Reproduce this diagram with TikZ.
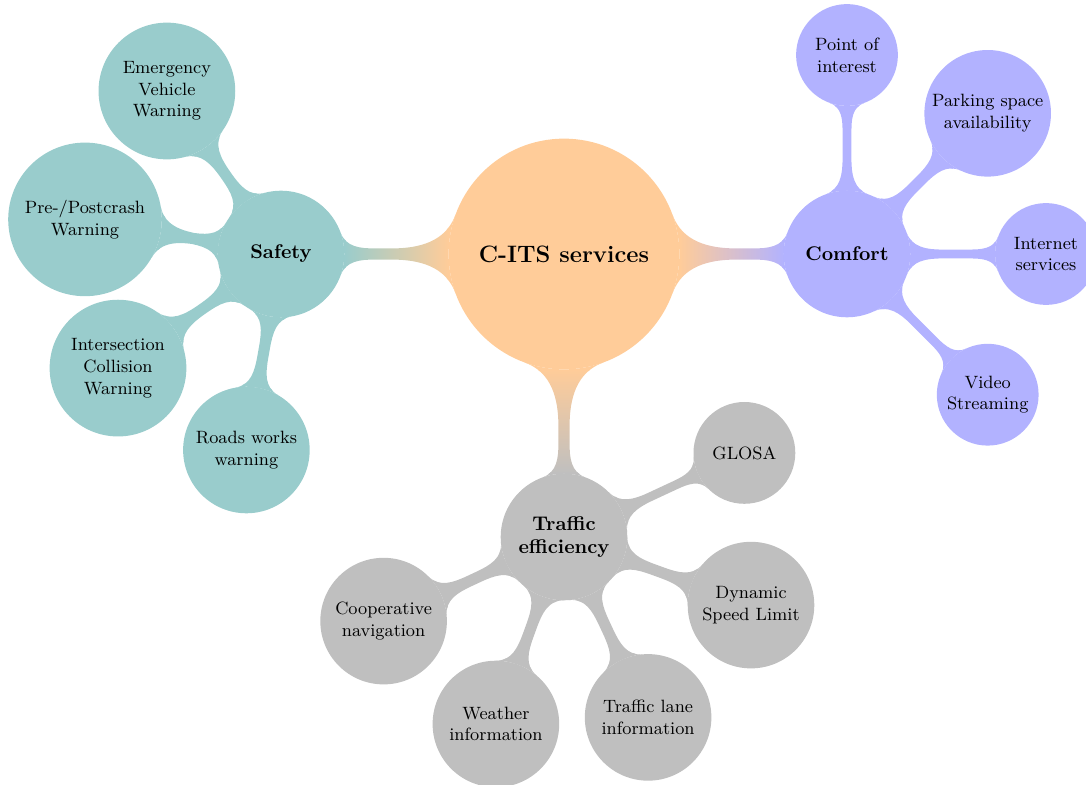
\documentclass[tikz,border=0pt]{standalone}
\usetikzlibrary{mindmap,backgrounds}
\begin{document}
\begin{tikzpicture}[x=0.017762cm, y=-0.017762cm,
  cbase/.style={circle, inner sep=0pt, align=center, text=black, line width=0.8pt},
  rootc/.style={cbase, fill=orange!40, draw=orange!40, minimum size=4.07cm, font=\large\bfseries},
  lone/.style={cbase, minimum size=2.22cm, font=\bfseries},
  leafs/.style={cbase, minimum size=1.78cm, font=\small},
  leafm/.style={cbase, minimum size=2.22cm, font=\small},
  leafl/.style={cbase, minimum size=2.40cm, font=\small},
  safc/.style={fill=teal!40, draw=teal!40},
  comc/.style={fill=blue!30, draw=blue!30},
  trac/.style={fill=gray!50, draw=gray!50},
  link/.style args={#1/#2}{circle connection bar switch color=from (#1) to (#2)}
]
\useasboundingbox (0,0) rectangle (1086,785);

\node[rootc] (root) at (564,254) {C-ITS services};

\node[lone, safc] (safety) at (281,254) {Safety};
\node[lone, comc] (comfort) at (847,254) {Comfort};
\node[lone, trac] (traffic) at (564,537) {Traffic\\efficiency};

\node[leafl, safc] (emerg) at (166.9,91.0) {Emergency\\Vehicle\\Warning};
\node[cbase, safc, minimum size=2.70cm, font=\small] (crash) at (85.0,219.4) {Pre-/Postcrash\\Warning};
\node[leafl, safc] (inter) at (118.0,368.1) {Intersection\\Collision\\Warning};
\node[leafm, safc] (roads) at (246.4,450.0) {Roads works\\warning};

\node[leafs, comc] (poi) at (847,55) {Point of\\interest};
\node[leafm, comc] (parking) at (987.7,113.3) {Parking space\\availability};
\node[leafs, comc] (internet) at (1046,254) {Internet\\services};
\node[leafs, comc] (video) at (987.7,394.7) {Video\\Streaming};

\node[leafs, trac] (glosa) at (744.4,452.9) {GLOSA};
\node[leafm, trac] (speed) at (751.0,605.1) {Dynamic\\Speed Limit};
\node[leafm, trac] (lane) at (648.1,717.4) {Traffic lane\\information};
\node[leafm, trac] (weather) at (495.9,724.0) {Weather\\information};
\node[leafm, trac] (coop) at (383.6,621.1) {Cooperative\\navigation};

\begin{pgfonlayer}{background}
\path (root) to[link=orange!40/teal!40] (safety);
\path (root) to[link=orange!40/blue!30] (comfort);
\path (root) to[link=orange!40/gray!50] (traffic);

\path (safety) to[link=teal!40/teal!40] (emerg);
\path (safety) to[link=teal!40/teal!40] (crash);
\path (safety) to[link=teal!40/teal!40] (inter);
\path (safety) to[link=teal!40/teal!40] (roads);

\path (comfort) to[link=blue!30/blue!30] (poi);
\path (comfort) to[link=blue!30/blue!30] (parking);
\path (comfort) to[link=blue!30/blue!30] (internet);
\path (comfort) to[link=blue!30/blue!30] (video);

\path (traffic) to[link=gray!50/gray!50] (glosa);
\path (traffic) to[link=gray!50/gray!50] (speed);
\path (traffic) to[link=gray!50/gray!50] (lane);
\path (traffic) to[link=gray!50/gray!50] (weather);
\path (traffic) to[link=gray!50/gray!50] (coop);
\end{pgfonlayer}
\end{tikzpicture}
\end{document}
